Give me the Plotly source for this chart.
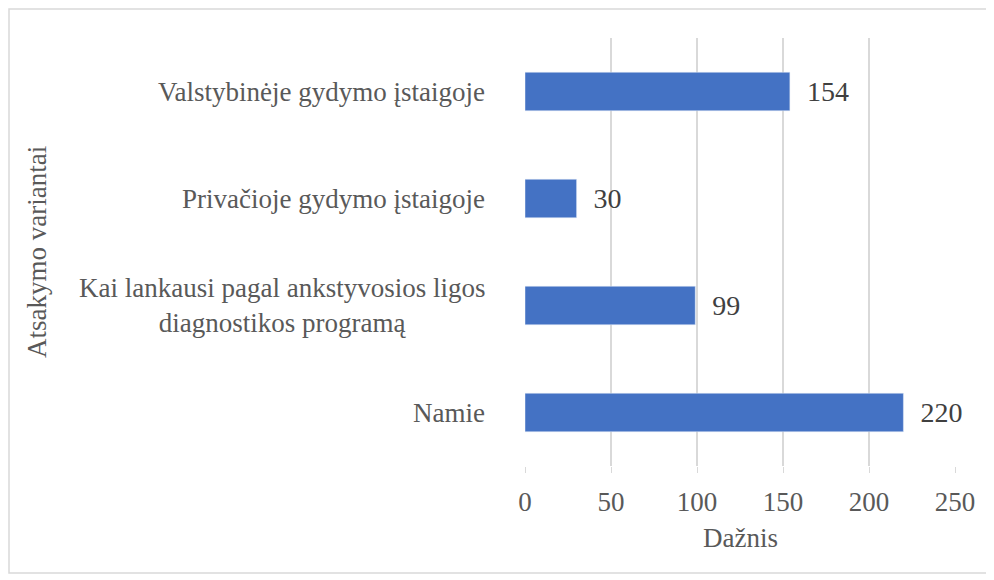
import plotly.graph_objects as go

# data, bottom to top
categories = [
    "Namie",
    "Kai lankausi pagal ankstyvosios ligos<br>diagnostikos programą",
    "Privačioje gydymo įstaigoje",
    "Valstybinėje gydymo įstaigoje",
]
counts = [220, 99, 30, 154]
x_ticks = [0, 50, 100, 150, 200, 250]

FONT = "Liberation Serif, Times New Roman, serif"
GREY = "#595959"

fig = go.Figure()
fig.add_trace(go.Bar(
    x=counts, y=categories, orientation="h",
    marker_color="#4472C4",
    text=counts, texttemplate="  %{x}", textposition="outside",
    textfont=dict(family=FONT, size=28, color="#404040"),
    cliponaxis=False,
))

# category labels as annotations so that wrapped lines stay centred
for cat in categories:
    fig.add_annotation(x=0, xref="paper", y=cat, yref="y", text=cat,
                       showarrow=False, xanchor="right", xshift=-38,
                       align="center",
                       font=dict(family=FONT, size=27, color=GREY))

# axis titles
fig.add_annotation(x=-1.135, xref="paper", y=0.5, yref="paper",
                   text="Atsakymo variantai", textangle=-90, showarrow=False,
                   xanchor="center", yanchor="middle",
                   font=dict(family=FONT, size=27, color=GREY))
fig.add_annotation(x=0.5, xref="paper", y=-0.168, yref="paper",
                   text="Dažnis", showarrow=False, yanchor="middle",
                   font=dict(family=FONT, size=27, color=GREY))

# outer frame
fig.add_shape(type="rect", xref="paper", yref="paper", layer="below",
              x0=-1.2, x1=1.088, y0=-0.25, y1=1.068,
              line=dict(color="#d9d9d9", width=1.5))

fig.update_layout(
    width=986, height=572,
    margin=dict(l=517, r=39, t=30, b=114),
    plot_bgcolor="white", paper_bgcolor="white",
    bargap=0.64, showlegend=False,
    font=dict(family=FONT, size=27, color=GREY),
)
fig.update_xaxes(range=[0, 250], tickvals=x_ticks, showgrid=True,
                 gridcolor="#d9d9d9", gridwidth=1.5, zeroline=False,
                 ticks="outside", ticklen=6, tickcolor="#d9d9d9",
                 ticklabelstandoff=6,
                 tickfont=dict(family=FONT, size=27, color=GREY))
fig.update_yaxes(showticklabels=False, showgrid=False, zeroline=False)

fig.write_html("out.html")
